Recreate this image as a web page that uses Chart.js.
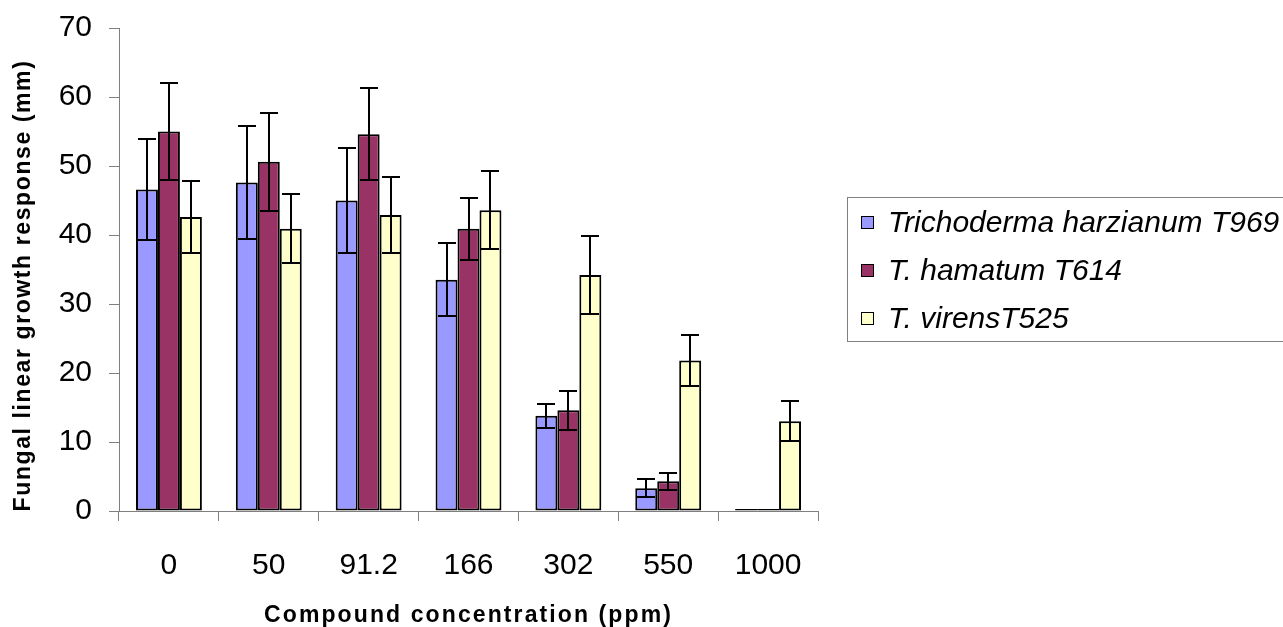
<!DOCTYPE html>
<html lang="en">
<head>
    <meta charset="UTF-8">
    <title>Fungal linear growth response</title>
    <style>
        html, body { margin: 0; padding: 0; background: #fff; overflow: hidden; }
        .chart-box { position: relative; width: 1283px; height: 627px; }
        .legend-box {
            position: absolute; left: 847px; top: 197px;
            width: 470px; height: 145px;
            border: 1px solid #808080; box-sizing: border-box;
            font-family: "Liberation Sans", Arial, sans-serif;
            font-style: italic; font-size: 30px; color: #000;
        }
        .legend-item {
            position: absolute; left: 13px; height: 36px;
            display: flex; align-items: center; white-space: nowrap;
        }
        .legend-item i {
            display: inline-block; width: 11px; height: 11px;
            border: 1.5px solid #000; margin-right: 14px;
        }
    </style>
</head>
<body>
    <div class="chart-box">
        <canvas id="chart" width="1283" height="627"></canvas>
        <div class="legend-box" id="legend"></div>
    </div>
    <script src="https://cdn.jsdelivr.net/npm/chart.js"></script>
    <script>
    // values
    const categories = ['0', '50', '91.2', '166', '302', '550', '1000'];
    const seriesNames = ['Trichoderma harzianum T969', 'T. hamatum T614', 'T. virensT525'];
    const seriesColors = ['#9999ff', '#993366', '#ffffcc'];

    const harzianumMeans  = [46.6, 47.6, 45.0, 33.5, 13.8, 3.3, 0];
    const harzianumErrors = [7.3, 8.2, 7.6, 5.3, 1.7, 1.3, 0];
    const hamatumMeans    = [55.0, 50.6, 54.6, 40.9, 14.6, 4.3, 0];
    const hamatumErrors   = [7.0, 7.1, 6.7, 4.5, 2.8, 1.2, 0];
    const virensMeans     = [42.6, 40.9, 42.9, 43.6, 34.2, 21.8, 13.0];
    const virensErrors    = [5.2, 5.0, 5.5, 5.7, 5.7, 3.7, 2.9];

    const yTicks = { min: 0, max: 70, step: 10 };

    const FONT = '"Liberation Sans", Arial, sans-serif';
    Chart.defaults.font.family = FONT;
    Chart.defaults.color = '#000';

    // error bars drawn on top of the bars, through the y scale
    const errorBars = {
        id: 'errorBars',
        afterDatasetsDraw(chart) {
            const ctx = chart.ctx;
            const y = chart.scales.y;
            ctx.save();
            ctx.strokeStyle = '#000';
            ctx.lineWidth = 2;
            chart.data.datasets.forEach((ds, i) => {
                chart.getDatasetMeta(i).data.forEach((bar, j) => {
                    const err = ds.errors[j];
                    if (!err) return;
                    const x = Math.round(bar.x);
                    const top = Math.round(y.getPixelForValue(ds.data[j] + err));
                    const bot = Math.round(y.getPixelForValue(ds.data[j] - err));
                    ctx.beginPath();
                    ctx.moveTo(x, top); ctx.lineTo(x, bot);
                    ctx.moveTo(x - 9, top); ctx.lineTo(x + 9, top);
                    ctx.moveTo(x - 9, bot); ctx.lineTo(x + 9, bot);
                    ctx.stroke();
                });
            });
            ctx.restore();
        }
    };

    // wider letter spacing on axis titles, like the original
    function spacedTitle(spacing, shiftY) {
        return function (scale) {
            if (scale._spaced) return;
            scale._spaced = true;
            const draw = scale.drawTitle;
            scale.drawTitle = function () {
                const c = this.ctx;
                c.save();
                c.letterSpacing = spacing + 'px';
                c.translate(0, shiftY);
                draw.call(this);
                c.restore();
            };
        };
    }

    const means = [harzianumMeans, hamatumMeans, virensMeans];
    const errors = [harzianumErrors, hamatumErrors, virensErrors];

    const chart = new Chart(document.getElementById('chart'), {
        type: 'bar',
        data: {
            labels: categories,
            datasets: seriesNames.map((name, i) => ({
                label: name,
                data: means[i],
                errors: errors[i],
                backgroundColor: seriesColors[i],
                borderColor: '#000',
                borderWidth: 2,
                borderSkipped: false,
                minBarLength: 2,
                categoryPercentage: 0.66,
                barPercentage: 1
            }))
        },
        options: {
            responsive: false,
            animation: false,
            layout: { padding: { top: 28, right: 465, bottom: 0, left: 0 } },
            plugins: {
                legend: { display: false },
                tooltip: { enabled: false }
            },
            scales: {
                x: {
                    grid: { drawOnChartArea: false, tickLength: 10, color: '#7f7f7f', offset: true },
                    border: { color: '#7f7f7f' },
                    ticks: { font: { size: 30 }, padding: 27, maxRotation: 0, autoSkip: false },
                    title: {
                        display: true,
                        text: 'Compound concentration (ppm)',
                        font: { size: 23, weight: 'bold', lineHeight: 1 },
                        padding: { top: 0, bottom: 0 }
                    },
                    afterFit: s => { s.height = 116; },
                    afterUpdate: spacedTitle(2.1, 0)
                },
                y: {
                    min: yTicks.min,
                    max: yTicks.max,
                    grid: { drawOnChartArea: false, tickLength: 10, color: '#7f7f7f' },
                    border: { color: '#7f7f7f' },
                    ticks: { stepSize: yTicks.step, font: { size: 30 }, padding: 17 },
                    title: {
                        display: true,
                        text: 'Fungal linear growth response (mm)',
                        font: { size: 23, weight: 'bold', lineHeight: 1.2 },
                        padding: { top: 10, bottom: 0 }
                    },
                    afterFit: s => { s.width = 119; s.paddingTop = 0; s.paddingBottom = 0; },
                    afterUpdate: spacedTitle(1.6, 16)
                }
            }
        },
        plugins: [errorBars]
    });

    // legend box, built from the datasets
    const legend = document.getElementById('legend');
    chart.data.datasets.forEach((ds, i) => {
        const item = document.createElement('div');
        item.className = 'legend-item';
        item.style.top = (6 + i * 48) + 'px';
        const sw = document.createElement('i');
        sw.style.background = ds.backgroundColor;
        item.appendChild(sw);
        item.appendChild(document.createTextNode(ds.label));
        legend.appendChild(item);
    });
    </script>
</body>
</html>
